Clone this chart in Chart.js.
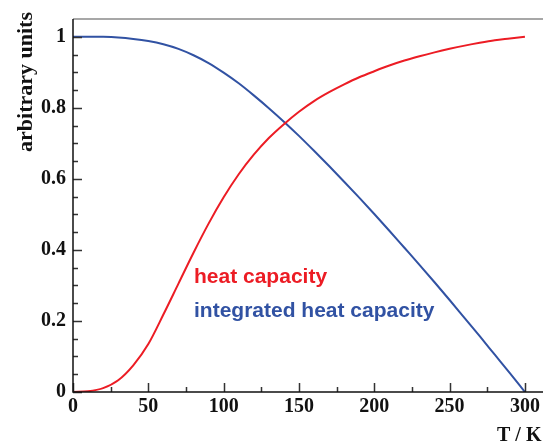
<!DOCTYPE html>
<html>
<head>
<meta charset="utf-8">
<script src="https://cdn.jsdelivr.net/npm/chart.js@4.4.1/dist/chart.umd.min.js"></script>
<style>
  html, body { margin: 0; padding: 0; background: #fff; }
  #wrap { width: 543px; height: 443px; position: relative; }
</style>
</head>
<body>
<div id="wrap"><canvas id="chart"></canvas></div>
<script>
// temperature grid in K
const temperatures = [0, 10, 20, 30, 40, 50, 60, 70, 80, 90, 100, 110, 120, 130, 140, 150,
  160, 170, 180, 190, 200, 210, 220, 230, 240, 250, 260, 270, 280, 290, 300];

// normalised heat capacity
const heatCapacity = [0, 0.002, 0.011, 0.033, 0.075, 0.135, 0.218, 0.305, 0.392, 0.474, 0.548,
  0.613, 0.668, 0.715, 0.754, 0.789, 0.819, 0.844, 0.866, 0.886, 0.903, 0.919, 0.933, 0.945,
  0.956, 0.966, 0.975, 0.983, 0.990, 0.995, 1.0];

// normalised integrated heat capacity
const integratedHeatCapacity = [1.0, 1.0, 0.9997, 0.998, 0.994, 0.988, 0.979, 0.966, 0.948,
  0.926, 0.899, 0.869, 0.835, 0.799, 0.761, 0.721, 0.679, 0.636, 0.592, 0.547, 0.501, 0.454,
  0.406, 0.358, 0.309, 0.259, 0.208, 0.157, 0.105, 0.053, 0];

const xTickValues = [0, 50, 100, 150, 200, 250, 300];
const yTickValues = [0, 0.2, 0.4, 0.6, 0.8, 1];

const RED = '#ec1c24';
const BLUE = '#3152a3';
const SERIF = '"Liberation Serif", "DejaVu Serif", serif';
const SANS = '"Liberation Sans", Arial, sans-serif';

const toPoints = (ys) => temperatures.map((t, i) => ({ x: t, y: ys[i] }));

// axis lines, inward tick marks and the free text labels
const frame = {
  id: 'frame',
  afterDatasetsDraw(chart) {
    const { ctx, chartArea: a, scales: { x, y } } = chart;
    ctx.save();
    ctx.lineWidth = 1.5;

    ctx.strokeStyle = '#8a8a8a';
    ctx.beginPath();
    ctx.moveTo(a.left, a.top);
    ctx.lineTo(a.right, a.top);
    ctx.stroke();

    ctx.strokeStyle = '#333';
    ctx.beginPath();
    for (let v = 0; v <= 300; v += 25) {
      const px = Math.round(x.getPixelForValue(v)) + 0.5;
      const len = v % 50 === 0 ? 9 : 5;
      ctx.moveTo(px, a.bottom);
      ctx.lineTo(px, a.bottom - len);
    }
    for (let i = 0; i <= 20; i++) {
      const py = Math.round(y.getPixelForValue(i * 0.05)) + 0.5;
      const len = i % 4 === 0 ? 9 : 5;
      ctx.moveTo(a.left, py);
      ctx.lineTo(a.left + len, py);
    }
    ctx.stroke();

    ctx.strokeStyle = '#111';
    ctx.beginPath();
    ctx.moveTo(a.left, a.top);
    ctx.lineTo(a.left, a.bottom);
    ctx.lineTo(a.right, a.bottom);
    ctx.stroke();
    ctx.restore();
  },
  afterDraw(chart) {
    const { ctx } = chart;
    ctx.save();
    ctx.fillStyle = '#111';
    ctx.font = 'bold 22px ' + SERIF;
    ctx.translate(26, 12);
    ctx.rotate(-Math.PI / 2);
    ctx.textAlign = 'right';
    ctx.textBaseline = 'middle';
    ctx.fillText('arbitrary units', 0, 0);
    ctx.restore();

    ctx.save();
    ctx.fillStyle = '#111';
    ctx.font = 'bold 20px ' + SERIF;
    ctx.textBaseline = 'alphabetic';
    ctx.fillText('T / K', 497, 441);

    ctx.font = 'bold 21px ' + SANS;
    ctx.fillStyle = RED;
    ctx.fillText('heat capacity', 194, 283);
    ctx.fillStyle = BLUE;
    ctx.fillText('integrated heat capacity', 194, 317);
    ctx.restore();
  }
};

new Chart(document.getElementById('chart'), {
  type: 'scatter',
  data: {
    datasets: [
      {
        label: 'heat capacity',
        data: toPoints(heatCapacity),
        showLine: true,
        borderColor: RED,
        borderWidth: 2,
        pointRadius: 0,
        cubicInterpolationMode: 'monotone',
      },
      {
        label: 'integrated heat capacity',
        data: toPoints(integratedHeatCapacity),
        showLine: true,
        borderColor: BLUE,
        borderWidth: 2,
        pointRadius: 0,
        cubicInterpolationMode: 'monotone',
      },
    ],
  },
  options: {
    responsive: true,
    maintainAspectRatio: false,
    animation: false,
    layout: { padding: { top: 11, right: 0, bottom: 0, left: 0 } },
    plugins: { legend: { display: false }, tooltip: { enabled: false } },
    scales: {
      x: {
        type: 'linear',
        min: 0,
        max: 312,
        afterBuildTicks: (s) => { s.ticks = xTickValues.map((v) => ({ value: v })); },
        afterFit: (s) => { s.height = 51; },
        grid: { display: false, drawTicks: false },
        border: { display: false },
        ticks: {
          padding: 3,
          color: '#111',
          maxRotation: 0,
          callback: (v) => String(v),
          font: { family: SERIF, size: 20, weight: 'bold' },
        },
      },
      y: {
        min: 0,
        max: 1.05,
        afterBuildTicks: (s) => { s.ticks = yTickValues.map((v) => ({ value: v })); },
        afterFit: (s) => { s.width = 73; },
        grid: { display: false, drawTicks: false },
        border: { display: false },
        ticks: {
          padding: 7,
          color: '#111',
          callback: (v) => String(v),
          font: { family: SERIF, size: 20, weight: 'bold' },
        },
      },
    },
  },
  plugins: [frame],
});
</script>
</body>
</html>
